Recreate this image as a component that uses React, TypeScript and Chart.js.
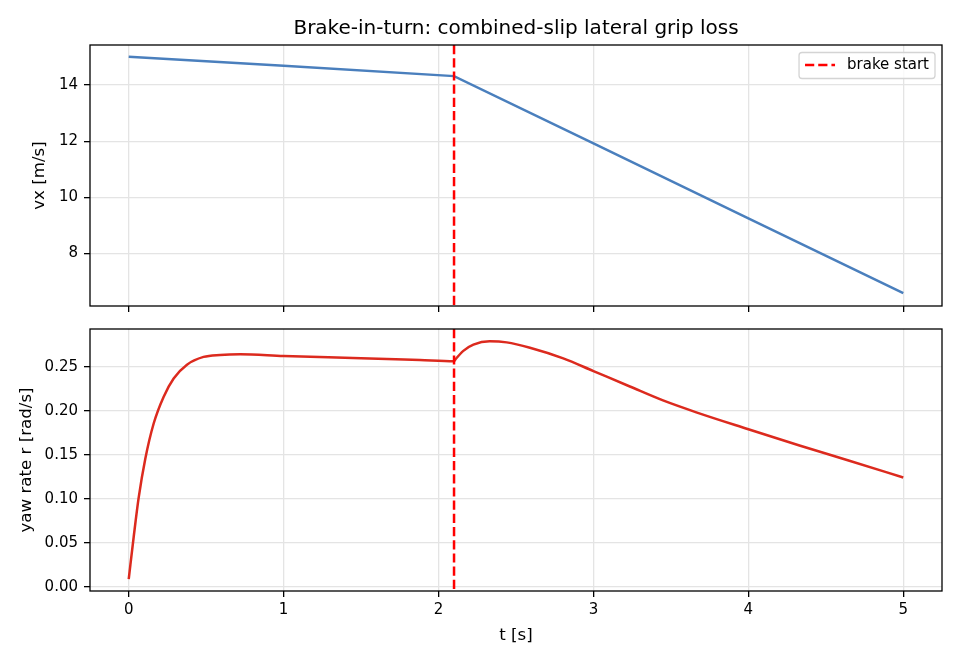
import React, { useEffect, useRef } from "react";
import { Chart, registerables } from "chart.js";

Chart.register(...registerables);

// ---------- data ----------
const TITLE = "Brake-in-turn: combined-slip lateral grip loss";
const LEGEND_LABEL = "brake start";
const BRAKE_T = 2.1;

const X_TICKS = [0, 1, 2, 3, 4, 5];
const VX_TICKS = [8, 10, 12, 14];
const R_TICKS = [0, 0.05, 0.1, 0.15, 0.2, 0.25];

const T_VX = [0, 1, 2.1, 3, 4, 5];
const VX = [15.01, 14.69, 14.32, 11.92, 9.25, 6.58];

const T_R = [
  0, 0.032, 0.064, 0.107, 0.161, 0.225, 0.29, 0.376, 0.483, 0.59, 0.72, 1.0,
  1.5, 1.88, 2.1, 2.11, 2.16, 2.225, 2.33, 2.44, 2.59, 2.805, 3.0, 3.235,
  3.449, 3.664, 4.0, 4.33, 4.652, 5.0,
];
const R = [
  0.0088, 0.0566, 0.101, 0.1455, 0.1855, 0.2157, 0.2366, 0.2523, 0.2611,
  0.2634, 0.2642, 0.2622, 0.2597, 0.2575, 0.2562, 0.2585, 0.268, 0.275, 0.2788,
  0.2776, 0.2716, 0.2595, 0.245, 0.2275, 0.2117, 0.1982, 0.179, 0.1605, 0.1432,
  0.1242,
];

// ---------- styles ----------
const FONT = '"DejaVu Sans", sans-serif';
const GRID = "#e4e4e4";
const BLUE = "#4a7fbd";
const RED = "#dc2a1e";
const DASH = [9.2, 4];

const framePlugin = {
  id: "frame",
  afterDatasetsDraw(chart: any) {
    const { ctx, chartArea, scales } = chart;
    const x = scales.x.getPixelForValue(BRAKE_T);
    ctx.save();
    ctx.strokeStyle = "#ff0000";
    ctx.lineWidth = 2.5;
    ctx.setLineDash(DASH);
    ctx.beginPath();
    ctx.moveTo(x, chartArea.top);
    ctx.lineTo(x, chartArea.bottom);
    ctx.stroke();
    ctx.setLineDash([]);
    ctx.strokeStyle = "#000";
    ctx.lineWidth = 1.3;
    ctx.strokeRect(
      chartArea.left,
      chartArea.top,
      chartArea.right - chartArea.left,
      chartArea.bottom - chartArea.top
    );
    ctx.restore();
  },
};

const legendPlugin = {
  id: "mplLegend",
  afterDraw(chart: any) {
    const { ctx, chartArea } = chart;
    ctx.save();
    ctx.font = `15px ${FONT}`;
    const tw = ctx.measureText(LEGEND_LABEL).width;
    const w = 6 + 30 + 12 + tw + 6;
    const h = 26;
    const right = chartArea.right - 7;
    const x0 = right - w;
    const y0 = chartArea.top + 7.5;
    ctx.beginPath();
    const r = 3;
    ctx.moveTo(x0 + r, y0);
    ctx.lineTo(x0 + w - r, y0);
    ctx.quadraticCurveTo(x0 + w, y0, x0 + w, y0 + r);
    ctx.lineTo(x0 + w, y0 + h - r);
    ctx.quadraticCurveTo(x0 + w, y0 + h, x0 + w - r, y0 + h);
    ctx.lineTo(x0 + r, y0 + h);
    ctx.quadraticCurveTo(x0, y0 + h, x0, y0 + h - r);
    ctx.lineTo(x0, y0 + r);
    ctx.quadraticCurveTo(x0, y0, x0 + r, y0);
    ctx.closePath();
    ctx.fillStyle = "rgba(255,255,255,0.8)";
    ctx.fill();
    ctx.strokeStyle = "#d4d4d4";
    ctx.lineWidth = 1.3;
    ctx.stroke();
    const cy = y0 + h / 2 - 0.5;
    ctx.strokeStyle = "#ff0000";
    ctx.lineWidth = 2.5;
    ctx.setLineDash(DASH);
    ctx.beginPath();
    ctx.moveTo(x0 + 6, cy);
    ctx.lineTo(x0 + 36, cy);
    ctx.stroke();
    ctx.setLineDash([]);
    ctx.fillStyle = "#000";
    ctx.textBaseline = "middle";
    ctx.textAlign = "left";
    ctx.fillText(LEGEND_LABEL, x0 + 48, cy);
    ctx.restore();
  },
};

function xScale(bottom: boolean, height: number) {
  return {
    type: "linear",
    min: -0.25,
    max: 5.25,
    afterBuildTicks: (s: any) => {
      s.ticks = X_TICKS.map((v) => ({ value: v }));
    },
    ticks: {
      display: bottom,
      color: "#000",
      font: { family: FONT, size: 15 },
      padding: 4,
      maxRotation: 0,
    },
    grid: {
      color: GRID,
      lineWidth: 1.3,
      tickLength: 6,
      tickColor: "#000",
      tickWidth: 1.3,
    },
    border: { display: false },
    title: {
      display: bottom,
      text: "t [s]",
      color: "#000",
      font: { family: FONT, size: 16.67 },
      padding: { top: 0, bottom: 14.5 },
    },
    afterFit: (s: any) => {
      s.height = height;
    },
  };
}

function yScale(
  label: string,
  ticks: number[],
  min: number,
  max: number,
  titlePad: number,
  fmt: (v: number) => string
) {
  return {
    type: "linear",
    min,
    max,
    afterBuildTicks: (s: any) => {
      s.ticks = ticks.map((v) => ({ value: v }));
    },
    ticks: {
      color: "#000",
      font: { family: FONT, size: 15 },
      padding: 6,
      callback: (v: any) => fmt(Number(v)),
    },
    grid: {
      color: GRID,
      lineWidth: 1.3,
      tickLength: 6,
      tickColor: "#000",
      tickWidth: 1.3,
    },
    border: { display: false },
    title: {
      display: true,
      text: label,
      color: "#000",
      font: { family: FONT, size: 16.67 },
      padding: { top: titlePad, bottom: 0 },
    },
    afterFit: (s: any) => {
      s.width = 90;
    },
  };
}

export default function App() {
  const topRef = useRef<HTMLCanvasElement | null>(null);
  const botRef = useRef<HTMLCanvasElement | null>(null);

  useEffect(() => {
    const top = new Chart(topRef.current as HTMLCanvasElement, {
      type: "line",
      data: {
        datasets: [
          {
            label: "vx",
            data: T_VX.map((t, i) => ({ x: t, y: VX[i] })),
            borderColor: BLUE,
            backgroundColor: BLUE,
            borderWidth: 2.5,
            pointRadius: 0,
            tension: 0,
            fill: false,
          },
        ],
      },
      options: {
        animation: false,
        responsive: false,
        events: [],
        layout: { padding: { left: 0, right: 18, top: 0, bottom: 0 } },
        plugins: {
          legend: { display: false },
          tooltip: { enabled: false },
          title: {
            display: true,
            fullSize: false,
            text: TITLE,
            color: "#000",
            font: { family: FONT, size: 20, weight: "normal" },
            padding: { top: 17, bottom: 4 },
          },
        },
        scales: {
          x: xScale(false, 24),
          y: yScale("vx [m/s]", VX_TICKS, 6.12, 15.43, 30, (v) => String(v)),
        },
      } as any,
      plugins: [framePlugin, legendPlugin],
    });

    const bot = new Chart(botRef.current as HTMLCanvasElement, {
      type: "line",
      data: {
        datasets: [
          {
            label: "r",
            data: T_R.map((t, i) => ({ x: t, y: R[i] })),
            borderColor: RED,
            backgroundColor: RED,
            borderWidth: 2.5,
            pointRadius: 0,
            cubicInterpolationMode: "monotone",
            fill: false,
          },
        ],
      },
      options: {
        animation: false,
        responsive: false,
        events: [],
        layout: { padding: { left: 0, right: 18, top: 20, bottom: 0 } },
        plugins: {
          legend: { display: false },
          tooltip: { enabled: false },
        },
        scales: {
          x: xScale(true, 69),
          y: yScale(
            "yaw rate r [rad/s]",
            R_TICKS,
            -0.0047,
            0.2928,
            16.5,
            (v) => v.toFixed(2)
          ),
        },
      } as any,
      plugins: [framePlugin],
    });

    return () => {
      top.destroy();
      bot.destroy();
    };
  }, []);

  return (
    <div
      style={{
        position: "absolute",
        left: 0,
        top: 0,
        width: 960,
        height: 660,
        background: "#fff",
      }}
    >
      <canvas
        ref={topRef}
        width={960}
        height={330}
        style={{ position: "absolute", left: 0, top: 0, display: "block" }}
      />
      <canvas
        ref={botRef}
        width={960}
        height={351}
        style={{ position: "absolute", left: 0, top: 309, display: "block" }}
      />
    </div>
  );
}
